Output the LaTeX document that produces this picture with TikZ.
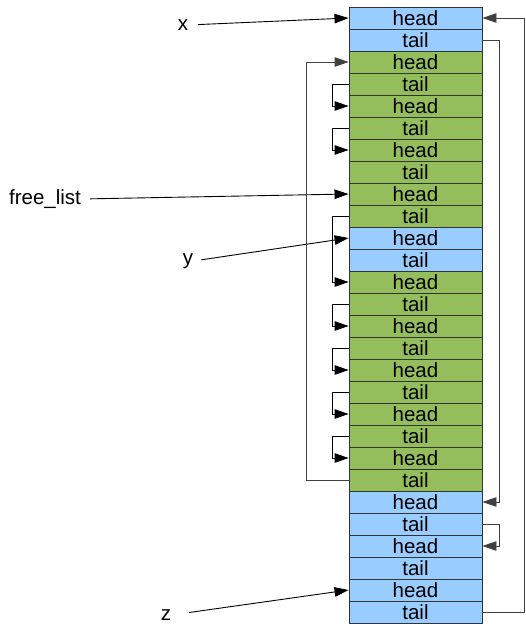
\documentclass[tikz,border=0pt]{standalone}
\usepackage{fontspec}
\setmainfont{Liberation Sans}
\usetikzlibrary{arrows.meta}
\definecolor{cblue}{HTML}{99CCFF}
\definecolor{cgreen}{HTML}{93BE5B}
\definecolor{cborder}{HTML}{333333}
\begin{document}
\begin{tikzpicture}[x=1pt,y=-1pt,
  cell/.style={draw=cborder, line width=0.9pt, minimum width=133pt, minimum height=22pt, inner sep=0pt, anchor=center, font=\fontsize{20.5}{22}\selectfont},
  lbl/.style={inner sep=0pt, font=\fontsize{20.5}{22}\selectfont},
  arr/.style={draw=black, line width=0.9pt, -{Triangle[length=14pt,width=9.5pt]}},
  conn/.style={draw=black!75, line width=0.9pt, -{Triangle[length=14pt,width=9.5pt]}}]
\useasboundingbox (0,0) rectangle (526,624);
\foreach \i/\t/\c in {1/head/cblue,2/tail/cblue,
  3/head/cgreen,4/tail/cgreen,5/head/cgreen,6/tail/cgreen,7/head/cgreen,8/tail/cgreen,9/head/cgreen,10/tail/cgreen,
  11/head/cblue,12/tail/cblue,
  13/head/cgreen,14/tail/cgreen,15/head/cgreen,16/tail/cgreen,17/head/cgreen,18/tail/cgreen,19/head/cgreen,20/tail/cgreen,21/head/cgreen,22/tail/cgreen,
  23/head/cblue,24/tail/cblue,25/head/cblue,26/tail/cblue,27/head/cblue,28/tail/cblue}
  {\node[cell, fill=\c] (c\i) at (415.5, 22*\i-4) {\t};}
% labels
\node[lbl] (lx) at (183,25) {x};
\node[lbl] (lf) at (45,199) {free\_list};
\node[lbl] (ly) at (188,261) {y};
\node[lbl] (lz) at (166,615) {z};
\draw[arr, shorten <=9.5pt] (lx.east) -- (c1.west);
\draw[arr, shorten <=9pt] (lf.east) -- (c9.west);
\draw[arr, shorten <=8pt] (ly.east) -- (c11.west);
\draw[arr, shorten <=18pt] (lz.east) -- (c27.west);
% right side
\draw[conn] (c2.east) -- ++(16.5,0) |- (c23.east);
\draw[conn] (c28.east) -- ++(42,0) |- (c1.east);
\draw[conn] (c24.east) -- ++(16.5,0) |- (c25.east);
% left side
\draw[conn] (c22.west) -- ++(-42.5,0) |- (c3.west);
\foreach \a/\b in {4/5,6/7,10/13,14/15,16/17,18/19,20/21}
  \draw[arr] (c\a.west) -- ++(-16.5,0) |- (c\b.west);
\end{tikzpicture}
\end{document}
